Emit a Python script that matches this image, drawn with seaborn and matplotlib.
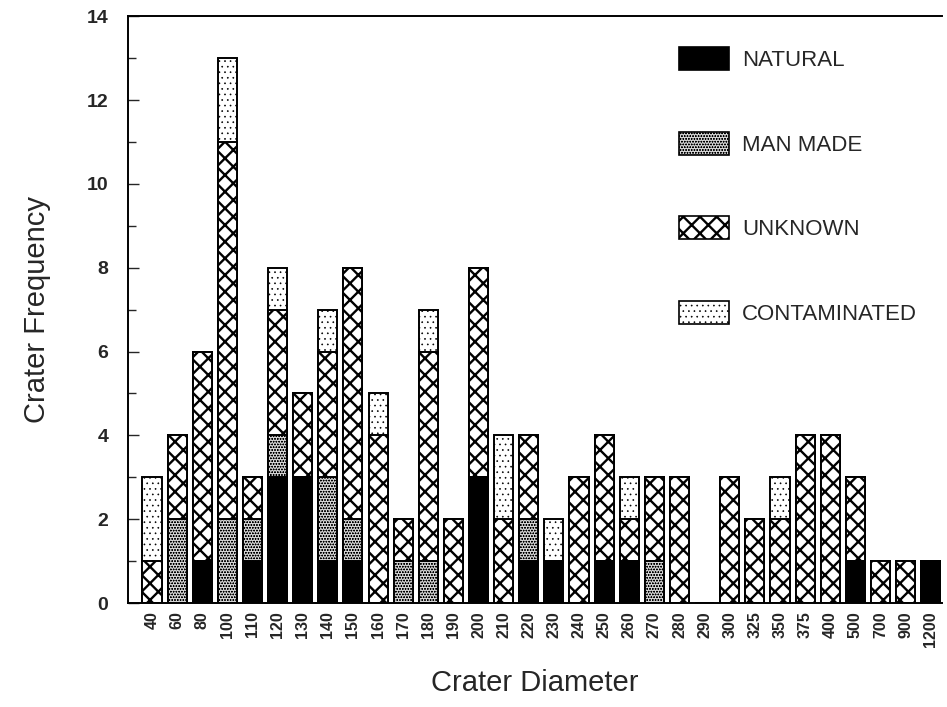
import numpy as np
import pandas as pd
import matplotlib
matplotlib.use("Agg")
import matplotlib.pyplot as plt
from matplotlib.patches import Patch
import seaborn as sns

# Crater diameter classes and counts per origin
diameters = ["40", "60", "80", "100", "110", "120", "130", "140", "150", "160",
             "170", "180", "190", "200", "210", "220", "230", "240", "250", "260",
             "270", "280", "290", "300", "325", "350", "375", "400", "500", "700",
             "900", "1200"]
natural =      [0, 0, 1, 0, 1, 3, 3, 1, 1, 0, 0, 0, 0, 3, 0, 1, 1, 0, 1, 1,
                0, 0, 0, 0, 0, 0, 0, 0, 1, 0, 0, 1]
man_made =     [0, 2, 0, 2, 1, 1, 0, 2, 1, 0, 1, 1, 0, 0, 0, 1, 0, 0, 0, 0,
                1, 0, 0, 0, 0, 0, 0, 0, 0, 0, 0, 0]
unknown =      [1, 2, 5, 9, 1, 3, 2, 3, 6, 4, 1, 5, 2, 5, 2, 2, 0, 3, 3, 1,
                2, 3, 0, 3, 2, 2, 4, 4, 2, 1, 1, 0]
contaminated = [2, 0, 0, 2, 0, 1, 0, 1, 0, 1, 0, 1, 0, 0, 2, 0, 1, 0, 0, 1,
                0, 0, 0, 0, 0, 1, 0, 0, 0, 0, 0, 0]

categories = ["NATURAL", "MAN MADE", "UNKNOWN", "CONTAMINATED"]

df = pd.DataFrame({"diameter": diameters, "NATURAL": natural,
                   "MAN MADE": man_made, "UNKNOWN": unknown,
                   "CONTAMINATED": contaminated})
cum = df[categories].cumsum(axis=1)

sns.set_theme(style="white")
plt.rcParams["font.family"] = ["Liberation Sans", "DejaVu Sans"]

# fill colour, hatch pattern and hatch line width for each origin
styles = {
    "NATURAL": dict(color="black", hatch=None, hlw=1.0),
    "MAN MADE": dict(color="#d4d4d4", hatch="oooooo", hlw=0.35),
    "UNKNOWN": dict(color="white", hatch="xx", hlw=1.7),
    "CONTAMINATED": dict(color="white", hatch="...", hlw=0.45),
}


def set_hatch_lw(patch, lw):
    if hasattr(patch, "set_hatch_linewidth"):
        patch.set_hatch_linewidth(lw)
    else:
        patch._hatch_linewidth = lw


fig = plt.figure(figsize=(9.47, 7.07), dpi=100)
ax = fig.add_axes([0.135, 0.147, 0.86, 0.83])

# Draw cumulative stacks from the top layer down so each lower layer covers the rest
for cat in reversed(categories):
    st = styles[cat]
    with plt.rc_context({"hatch.linewidth": st["hlw"]}):
        sns.barplot(x=df["diameter"], y=cum[cat], order=diameters, color=st["color"],
                    saturation=1, width=0.76, edgecolor="black", linewidth=1.4,
                    hatch=st["hatch"], ax=ax, errorbar=None)

ax.set_xlim(-0.96, 31.46)
ax.set_ylim(0, 14)
ax.set_yticks(np.arange(0, 15, 2))
ax.set_yticks(np.arange(1, 14, 2), minor=True)
ax.tick_params(axis="y", which="major", direction="in", length=8, width=1,
               labelsize=14, pad=14, left=True)
ax.tick_params(axis="y", which="minor", direction="in", length=6, width=1, left=True)
ax.tick_params(axis="x", length=0, labelsize=11.5, pad=6)
for lbl in ax.get_xticklabels():
    lbl.set_rotation(90)
    lbl.set_fontweight("bold")
for lbl in ax.get_yticklabels():
    lbl.set_fontweight("bold")

for side in ["left", "bottom", "top"]:
    ax.spines[side].set_visible(True)
    ax.spines[side].set_color("black")
    ax.spines[side].set_linewidth(1.4)
ax.spines["right"].set_visible(False)

ax.set_xlabel("Crater Diameter", fontsize=21, labelpad=16)
ax.set_ylabel("Crater Frequency", fontsize=21, labelpad=26)

handles = [Patch(facecolor=styles[c]["color"], edgecolor="black",
                 hatch=styles[c]["hatch"], linewidth=1.2, label=c)
           for c in categories]
leg = ax.legend(handles=handles, loc="upper left", bbox_to_anchor=(0.705, 0.949),
                bbox_transform=fig.transFigure, frameon=False, fontsize=16,
                handlelength=2.25, handleheight=1.2, labelspacing=2.73,
                handletextpad=0.6, borderpad=0)
for h, c in zip(leg.legend_handles, categories):
    set_hatch_lw(h, styles[c]["hlw"])

fig.savefig("out.png", dpi=100)
